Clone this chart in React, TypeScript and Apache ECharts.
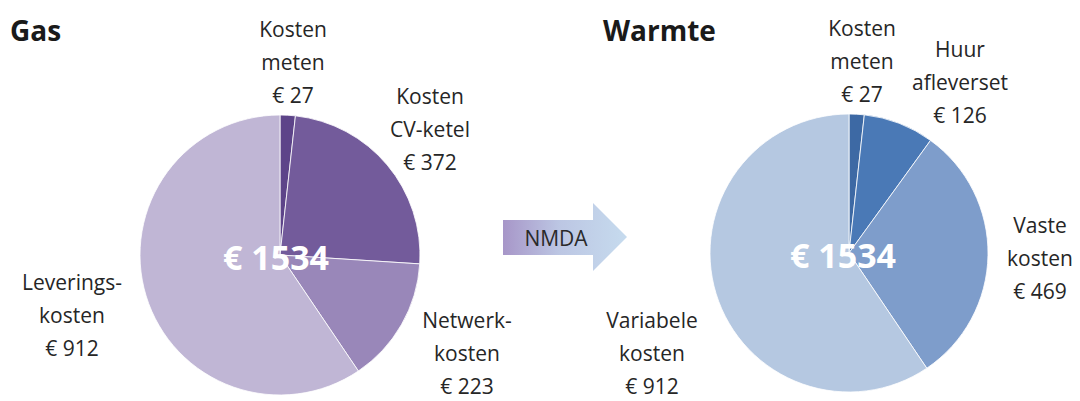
import React, { useEffect, useRef } from "react";
import * as echarts from "echarts";

const gasNames = ["Kosten\nmeten", "Kosten\nCV-ketel", "Netwerk-\nkosten", "Leverings-\nkosten"];
const gasValues = [27, 372, 223, 912];
const warmteNames = ["Kosten\nmeten", "Huur\nafleverset", "Vaste\nkosten", "Variabele\nkosten"];
const warmteValues = [27, 126, 469, 912];
const titles = ["Gas", "Warmte"];
const arrowLabel = "NMDA";

const gasColors = ["#5d4489", "#735b9b", "#9987b9", "#c0b6d5"];
const warmteColors = ["#3d69a4", "#4a79b6", "#7e9dcb", "#b5c8e1"];

// label block centres (layout only)
const gasLabelPos = [[293, 62], [430, 129], [467, 353], [72, 315]];
const warmteLabelPos = [[862, 61], [960, 82], [1040, 258], [652, 353]];

const FONT = "'Open Sans', 'Noto Sans', sans-serif";

export default function App() {
  const ref = useRef<HTMLDivElement>(null);
  useEffect(() => {
    if (!ref.current) return;
    const chart = echarts.init(ref.current, undefined, { renderer: "svg" });
    const sum = (a: number[]) => a.reduce((s, v) => s + v, 0);
    const mkSeries = (names: string[], values: number[], colors: string[], center: number[], r: number, pos: number[][]) => ({
      type: "pie",
      center,
      radius: r,
      startAngle: 90,
      clockwise: true,
      avoidLabelOverlap: false,
      itemStyle: { borderColor: "rgba(255,255,255,0.8)", borderWidth: 1 },
      label: {
        show: true,
        formatter: (p: any) => `${p.name}\n€ ${p.value}`,
        fontFamily: FONT,
        fontSize: 21,
        lineHeight: 33,
        color: "#262626",
        align: "center",
      },
      labelLine: { show: false },
      labelLayout: (p: any) => ({
        x: pos[p.dataIndex][0],
        y: pos[p.dataIndex][1],
        align: "center",
        verticalAlign: "middle",
      }),
      emphasis: { disabled: true },
      data: names.map((n, i) => ({ name: n, value: values[i], itemStyle: { color: colors[i] } })),
    });
    chart.setOption({
      animation: false,
      series: [
        mkSeries(gasNames, gasValues, gasColors, [280, 255], 140, gasLabelPos),
        mkSeries(warmteNames, warmteValues, warmteColors, [849, 253], 139, warmteLabelPos),
      ],
      graphic: [
        { type: "text", left: 10, top: 16, style: { text: titles[0], fontFamily: FONT, fontSize: 28, fontWeight: "bold", fill: "#1a1a1a" } },
        { type: "text", left: 603, top: 16, style: { text: titles[1], fontFamily: FONT, fontSize: 28, fontWeight: "bold", fill: "#1a1a1a" } },
        {
          type: "polygon",
          shape: { points: [[503, 220], [593, 220], [593, 203], [627, 237], [593, 271], [593, 255], [503, 255]] },
          style: {
            fill: new echarts.graphic.LinearGradient(0, 0, 1, 0, [
              { offset: 0, color: "#a796c8" },
              { offset: 0.45, color: "#bcc6e3" },
              { offset: 1, color: "#c6dbee" },
            ]),
          },
          z: 10,
        },
        { type: "text", x: 556, y: 238, style: { text: arrowLabel, fontFamily: FONT, fontSize: 21, fill: "#2a2a2a", align: "center", verticalAlign: "middle" }, z: 11 },
        { type: "text", x: 276, y: 257, style: { text: `€ ${sum(gasValues)}`, fontFamily: FONT, fontSize: 34, fontWeight: "bold", fill: "#ffffff", align: "center", verticalAlign: "middle" }, z: 20 },
        { type: "text", x: 843, y: 255, style: { text: `€ ${sum(warmteValues)}`, fontFamily: FONT, fontSize: 34, fontWeight: "bold", fill: "#ffffff", align: "center", verticalAlign: "middle" }, z: 20 },
      ],
    });
    return () => chart.dispose();
  }, []);
  return <div ref={ref} style={{ position: "fixed", left: 0, top: 0, width: 1080, height: 401, background: "#fff" }} />;
}
